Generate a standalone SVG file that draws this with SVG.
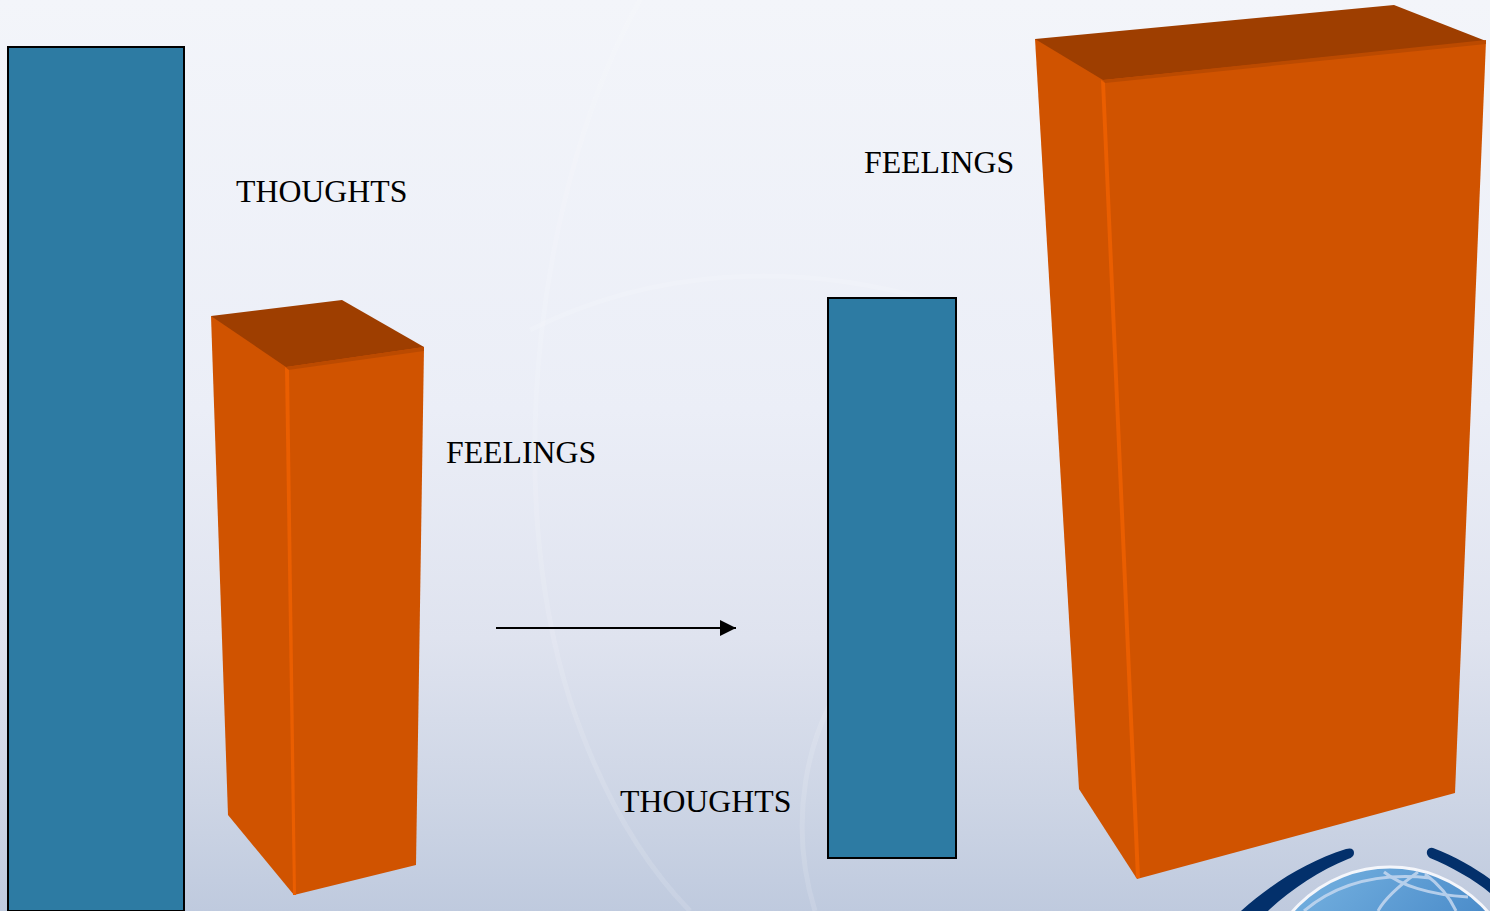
<svg xmlns="http://www.w3.org/2000/svg" width="1490" height="911" viewBox="0 0 1490 911">
<style>
.lbl{font-family:"Liberation Serif","Times New Roman",serif;font-size:31.8px;fill:#000}
.bar{fill:#2d7ba3;stroke:#000;stroke-width:2}
.front{fill:#d05300}
.top{fill:#9e3e00}
.rim{fill:#bb4a00}
.edge{fill:#ea5e00}
.wm{fill:none;stroke:#fff;stroke-opacity:.13;stroke-width:5}
</style>
<defs>
<linearGradient id="bg" x1="0" y1="0" x2="0" y2="1">
<stop offset="0" stop-color="#f3f5fa"/><stop offset=".45" stop-color="#ebeef7"/><stop offset=".7" stop-color="#dfe3ef"/><stop offset=".88" stop-color="#cdd5e5"/><stop offset="1" stop-color="#bfcade"/>
</linearGradient>
<linearGradient id="globe" x1="0" y1="0" x2="1" y2="1">
<stop offset="0" stop-color="#7db8e4"/><stop offset=".5" stop-color="#4d8ecb"/><stop offset=".8" stop-color="#2c4f97"/>
</linearGradient>
<marker id="ah" markerUnits="userSpaceOnUse" markerWidth="16" markerHeight="16" refX="16" refY="8" orient="auto"><path d="M0,0L16,8L0,16Z" fill="#000"/></marker>
</defs>
<rect id="background" width="1490" height="911" fill="url(#bg)"/>
<g id="watermark">
<path class="wm" d="M640,0C540,180 500,480 570,700C600,790 640,860 690,911"/>
<path class="wm" d="M860,660C800,730 790,830 815,911"/>
<path class="wm" d="M530,330C650,270 790,260 930,300"/>
</g>
<g id="logo">
<path d="M1241,911C1270,885 1305,862 1346,849Q1354,847 1354,853Q1354,857 1348,859C1320,870 1290,890 1268,911Z" fill="#03306b"/>
<path d="M1433,848C1455,856 1475,868 1490,879V893C1475,880 1450,866 1430,858Q1426,855 1427,851Q1429,847 1433,848Z" fill="#03306b"/>
<circle cx="1390" cy="996" r="129" fill="url(#globe)" stroke="#f4f6fb" stroke-width="3"/>
<g fill="none" stroke="#c5d8f0" stroke-width="3" opacity=".85">
<path d="M1304,911C1335,885 1375,872 1430,878"/>
<path d="M1384,872C1400,885 1430,895 1468,897"/>
<path d="M1418,872C1400,885 1385,898 1378,911"/>
<path d="M1425,874C1440,885 1450,898 1456,911"/>
</g>
</g>
<g id="thoughts-left"><rect class="bar" x="8" y="47" width="176" height="864"/></g>
<g id="feelings-left">
<polygon class="front" points="211,316 424,347 416,865 294,895 228,815"/>
<polygon class="top" points="211,316 342,300 424,347 286,367"/>
<polygon class="rim" points="286,367 424,347 424,351 288,370"/>
<polygon class="edge" points="285,367 289,370 296,895 293,895"/>
</g>
<g id="thoughts-right"><rect class="bar" x="828" y="298" width="128" height="560"/></g>
<g id="feelings-right">
<polygon class="front" points="1035,39 1486,41 1455,793 1137,879 1079,789"/>
<polygon class="top" points="1035,39 1394,5 1486,41 1103,80"/>
<polygon class="rim" points="1103,80 1486,40 1486,44 1105,83"/>
<polygon class="edge" points="1101,80 1105,83 1140,878 1136,878"/>
</g>
<g id="connectors"><line x1="496" y1="628" x2="736" y2="628" stroke="#000" stroke-width="2" marker-end="url(#ah)"/></g>
<g id="labels">
<text class="lbl" x="236" y="202">THOUGHTS</text>
<text class="lbl" x="446" y="463">FEELINGS</text>
<text class="lbl" x="620" y="812">THOUGHTS</text>
<text class="lbl" x="864" y="173">FEELINGS</text>
</g>
</svg>
